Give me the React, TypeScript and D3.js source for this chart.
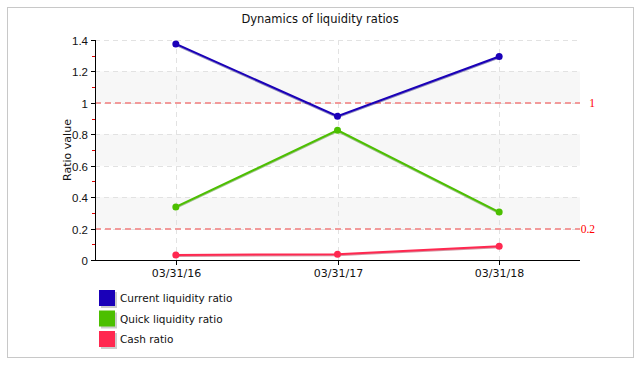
import React from "react";
import * as d3 from "d3";

const categories = ["03/31/16", "03/31/17", "03/31/18"];
const currentRatio = [1.375, 0.915, 1.295];
const quickRatio = [0.338, 0.826, 0.305];
const cashRatio = [0.032, 0.037, 0.088];
const yTicks = [0, 0.2, 0.4, 0.6, 0.8, 1, 1.2, 1.4];
const minorTicks = [0.1, 0.3, 0.5, 0.7, 0.9, 1.1, 1.3];
const bands = [[0.2, 0.4], [0.6, 0.8], [1.0, 1.2]];
const refLines = [1, 0.2];
const refLabels = ["1", "0.2"];

const seriesNames = ["Current liquidity ratio", "Quick liquidity ratio", "Cash ratio"];
const seriesColors = ["#1a00b8", "#4cbf00", "#ff2850"];
const shadowColors = ["#0c0070", "#2f7a00", "#a0102c"];

const W = 640;
const H = 365;
const margin = { top: 40, right: 60, bottom: 105, left: 95 };
const font = "'DejaVu Sans', Verdana, sans-serif";
const tickFont = "'Liberation Sans', Arial, sans-serif";

const App = () => {
  const innerW = W - margin.left - margin.right;
  const innerH = H - margin.top - margin.bottom;

  const xScale = d3.scalePoint().domain(categories).range([0, innerW]).padding(0.5);
  const yScale = d3.scaleLinear().domain([0, 1.4]).range([innerH, 0]);

  const lineGen = d3
    .line<number>()
    .x((_, i) => xScale(categories[i]) || 0)
    .y((d) => yScale(d));

  const allSeries = [currentRatio, quickRatio, cashRatio];

  return (
    <svg width={W} height={H} style={{ position: "absolute", left: 0, top: 0, fontFamily: font }}>
      <rect x={0} y={0} width={W} height={H} fill="#fff" />
      <rect x={7.5} y={7.5} width={626} height={350} fill="#fff" stroke="#c8c8c8" />
      <text x={320} y={23} textAnchor="middle" fontSize={11.5} fill="#111">
        Dynamics of liquidity ratios
      </text>
      <g transform={`translate(${margin.left},${margin.top})`}>
        {/* shaded bands */}
        {bands.map(([a, b], i) => (
          <rect key={i} x={0} y={yScale(b)} width={innerW} height={yScale(a) - yScale(b)} fill="#f7f7f7" />
        ))}
        {/* horizontal grid */}
        {yTicks.slice(1).map((t) => (
          <line key={t} x1={0} x2={innerW} y1={Math.round(yScale(t)) + 0.5} y2={Math.round(yScale(t)) + 0.5}
            stroke="#e2e2e2" strokeDasharray="5,4" />
        ))}
        {/* vertical grid */}
        {categories.map((c) => (
          <line key={c} x1={Math.round(xScale(c) || 0) + 0.5} x2={Math.round(xScale(c) || 0) + 0.5} y1={0} y2={innerH}
            stroke="#e2e2e2" strokeDasharray="5,4" />
        ))}
        {/* reference lines */}
        {refLines.map((r, i) => (
          <g key={r}>
            <line x1={0} x2={innerW} y1={Math.round(yScale(r))} y2={Math.round(yScale(r))}
              stroke="#f29a9a" strokeWidth={2} strokeDasharray="6,4" />
            <text x={innerW + 15} y={yScale(r) + 4} fontSize={11.5} fill="#ff0000" fontFamily="'Liberation Serif', serif" textAnchor="end">
              {refLabels[i]}
            </text>
          </g>
        ))}
        {/* y axis */}
        <line x1={0.5} x2={0.5} y1={0} y2={innerH} stroke="#000" />
        {yTicks.map((t) => (
          <g key={t} transform={`translate(0,${Math.round(yScale(t)) + 0.5})`}>
            <line x1={-4} x2={0} stroke="#000" />
            <text x={-7} y={4} textAnchor="end" fontSize={11.5} fontFamily={tickFont} fill="#111">{t}</text>
          </g>
        ))}
        {minorTicks.map((t) => (
          <line key={t} x1={-3} x2={0} y1={Math.round(yScale(t)) + 0.5} y2={Math.round(yScale(t)) + 0.5} stroke="#e00000" />
        ))}
        <text transform={`translate(${-24},${innerH / 2}) rotate(-90)`} textAnchor="middle" fontSize={11} fill="#111">
          Ratio value
        </text>
        {/* x axis */}
        <line x1={0} x2={innerW} y1={innerH + 0.5} y2={innerH + 0.5} stroke="#000" />
        {categories.map((c) => (
          <g key={c} transform={`translate(${Math.round(xScale(c) || 0) + 0.5},${innerH})`}>
            <line y1={0} y2={5} stroke="#000" />
            <text y={17} textAnchor="middle" fontSize={11} fill="#111">{c}</text>
          </g>
        ))}
        {/* series */}
        {allSeries.map((s, i) => (
          <g key={i}>
            <path d={lineGen(s) || ""} transform="translate(0,1)" fill="none" stroke={shadowColors[i]} strokeOpacity={0.45} strokeWidth={2} />
            <path d={lineGen(s) || ""} fill="none" stroke={seriesColors[i]} strokeWidth={2} />
            {s.map((v, j) => (
              <circle key={j} cx={xScale(categories[j])} cy={yScale(v)} r={3.5} fill={seriesColors[i]} />
            ))}
          </g>
        ))}
      </g>
      {/* legend */}
      {seriesNames.map((n, i) => (
        <g key={n} transform={`translate(99,${290 + i * 20.5})`}>
          <rect x={2} y={2} width={16} height={16} fill="#ccc" />
          <rect x={0} y={0} width={16} height={16} fill={seriesColors[i]} />
          <text x={21} y={12} fontSize={10.5} fill="#111">{n}</text>
        </g>
      ))}
    </svg>
  );
};

export default App;
